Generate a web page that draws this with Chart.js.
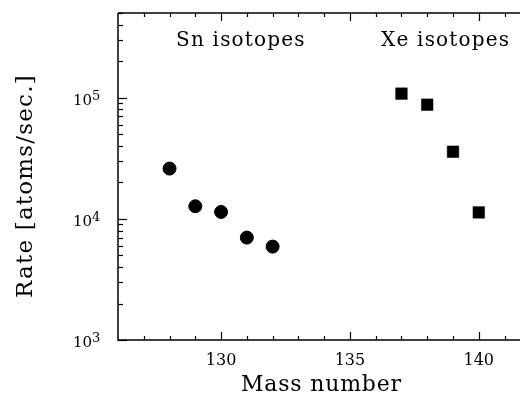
<!DOCTYPE html>
<html>
<head>
<meta charset="utf-8">
<script src="https://cdn.jsdelivr.net/npm/chart.js@4.4.0/dist/chart.umd.min.js"></script>
<style>
  html, body { margin: 0; padding: 0; background: #fff; }
</style>
</head>
<body>
<canvas id="chart" width="520" height="396"></canvas>
<script>
// values
const snMass = [128, 129, 130, 131, 132];
const snRate = [26000, 12700, 11400, 7000, 5900];
const xeMass = [137, 138, 139, 140];
const xeRate = [108000, 87500, 35800, 11300];

const xMajorTicks = [130, 135, 140];
const xMinorTicks = [127, 128, 129, 131, 132, 133, 134, 136, 137, 138, 139, 141];
const yExponents = [3, 4, 5];

const SERIF = "'DejaVu Serif', serif";

function toPoints(xs, ys) {
  return xs.map((x, i) => ({ x: x, y: ys[i] }));
}

// frame, inward ticks, labels and titles
const framePlugin = {
  id: "frame",
  afterDraw(chart) {
    const { ctx, chartArea: a, scales } = chart;
    const xs = scales.x, ys = scales.y;
    ctx.save();
    ctx.strokeStyle = "#000";
    ctx.lineWidth = 1.5;

    ctx.beginPath();
    ctx.moveTo(a.left, a.top);
    ctx.lineTo(a.left, a.bottom);
    ctx.lineTo(a.right, a.bottom);
    ctx.moveTo(a.left, a.top);
    ctx.lineTo(a.right, a.top);
    ctx.stroke();

    // x ticks, bottom and top
    ctx.lineWidth = 1.2;
    const xTick = (v, len) => {
      const px = Math.round(xs.getPixelForValue(v)) + 0.5;
      ctx.beginPath();
      ctx.moveTo(px, a.bottom);
      ctx.lineTo(px, a.bottom - len);
      ctx.moveTo(px, a.top);
      ctx.lineTo(px, a.top + len);
      ctx.stroke();
    };
    xMajorTicks.forEach(v => xTick(v, 8));
    xMinorTicks.forEach(v => xTick(v, 4));

    // y ticks, left side
    const yTick = (v, len) => {
      const py = Math.round(ys.getPixelForValue(v)) + 0.5;
      ctx.beginPath();
      ctx.moveTo(a.left, py);
      ctx.lineTo(a.left + len, py);
      ctx.stroke();
    };
    for (let e = yExponents[0]; e <= 5; e++) {
      const base = Math.pow(10, e);
      yTick(base, 9);
      for (let m = 2; m <= 9; m++) {
        if (base * m <= ys.max) yTick(base * m, 5);
      }
    }

    ctx.fillStyle = "#000";
    ctx.textBaseline = "alphabetic";

    // x tick labels
    ctx.font = "16px " + SERIF;
    ctx.textAlign = "center";
    xMajorTicks.forEach(v => {
      ctx.fillText(String(v), xs.getPixelForValue(v), a.bottom + 25);
    });

    // y tick labels 10^n
    yExponents.forEach(e => {
      const py = ys.getPixelForValue(Math.pow(10, e));
      ctx.font = "15px " + SERIF;
      ctx.textAlign = "right";
      ctx.fillText("10", 92, py + 7);
      ctx.font = "13px " + SERIF;
      ctx.textAlign = "left";
      ctx.fillText(String(e), 92, py + 2);
    });

    // axis titles
    ctx.font = "22px " + SERIF;
    ctx.textAlign = "left";
    ctx.letterSpacing = "0.8px";
    ctx.fillText("Mass number", 241, 391);

    ctx.save();
    ctx.font = "23px " + SERIF;
    ctx.letterSpacing = "1.2px";
    ctx.translate(32, 298);
    ctx.rotate(-Math.PI / 2);
    ctx.fillText("Rate [atoms/sec.]", 0, 0);
    ctx.restore();

    // group labels
    ctx.font = "20px " + SERIF;
    ctx.textAlign = "left";
    ctx.letterSpacing = "1.2px";
    ctx.fillText("Sn isotopes", 176, 46);
    ctx.fillText("Xe isotopes", 381, 46);
    ctx.restore();
  }
};

new Chart(document.getElementById("chart"), {
  type: "scatter",
  data: {
    datasets: [
      {
        label: "Sn isotopes",
        data: toPoints(snMass, snRate),
        pointStyle: "circle",
        pointRadius: 6.5,
        backgroundColor: "#000",
        borderColor: "#000",
        borderWidth: 1
      },
      {
        label: "Xe isotopes",
        data: toPoints(xeMass, xeRate),
        pointStyle: "rect",
        pointRadius: 8.2,
        backgroundColor: "#000",
        borderColor: "#000",
        borderWidth: 0.5
      }
    ]
  },
  options: {
    responsive: false,
    animation: false,
    layout: { autoPadding: false, padding: { left: 118, top: 13, right: 0, bottom: 56 } },
    plugins: {
      legend: { display: false },
      tooltip: { enabled: false }
    },
    scales: {
      x: { type: "linear", min: 126, max: 141.6, display: false },
      y: { type: "logarithmic", min: 1000, max: 500000, display: false }
    }
  },
  plugins: [framePlugin]
});
</script>
</body>
</html>
